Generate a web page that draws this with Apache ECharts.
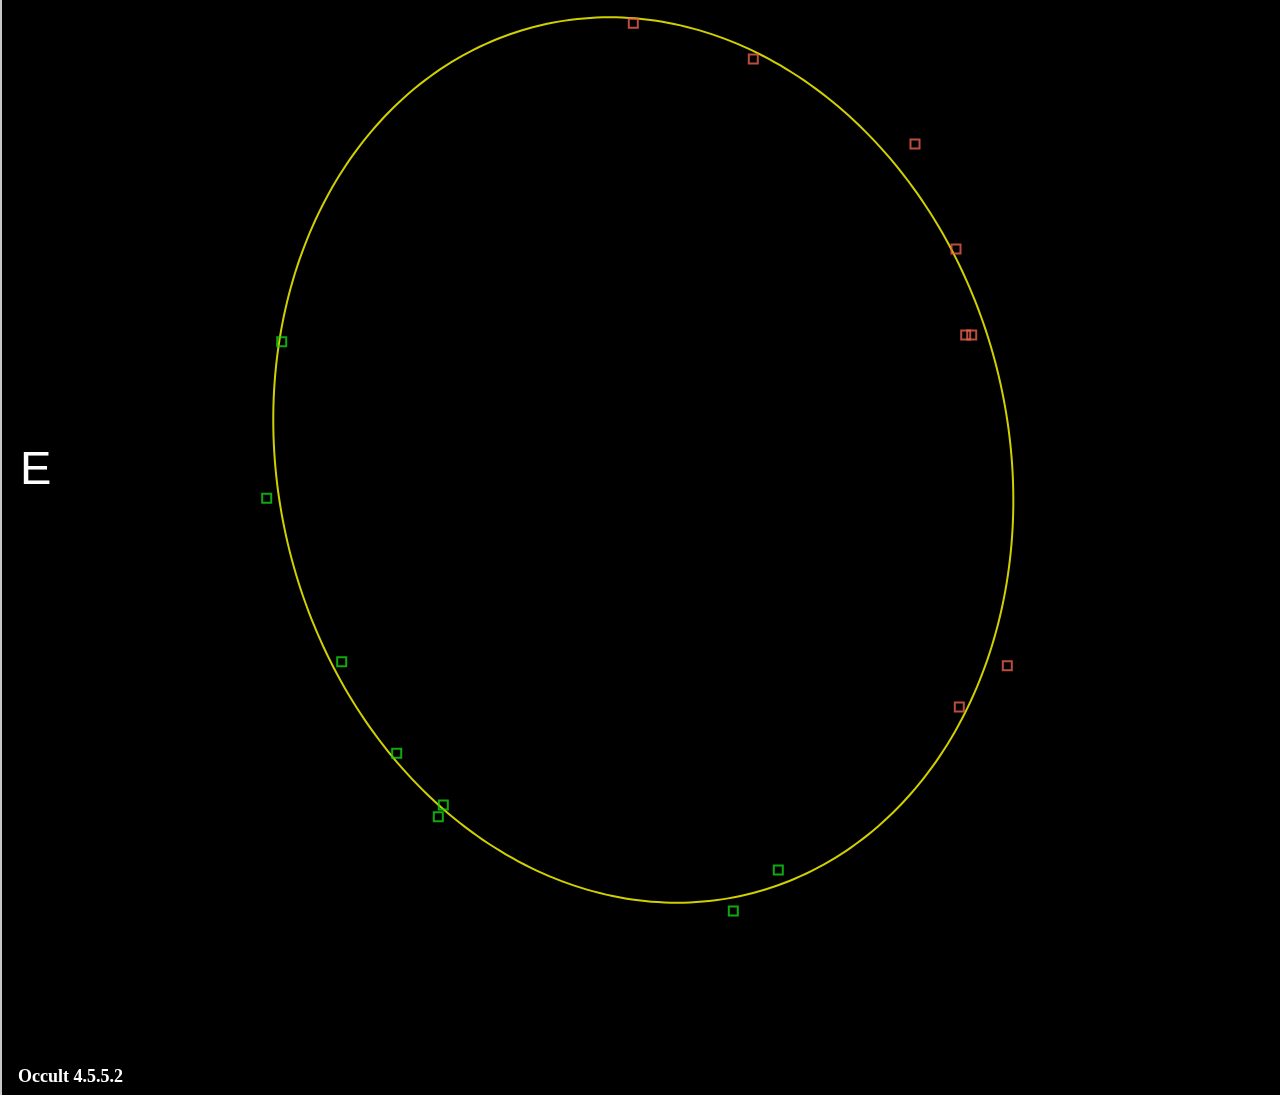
<!DOCTYPE html>
<html>
<head>
<meta charset="utf-8">
<script src="https://cdn.jsdelivr.net/npm/echarts@6/dist/echarts.min.js"></script>
<style>
html,body{margin:0;padding:0;background:#000;}
#chart{width:1280px;height:1095px;}
</style>
</head>
<body>
<div id="chart"></div>
<script>
// Fitted asteroid profile (km): center, semi-major, semi-minor, major-axis angle (deg from +x, counter-clockwise)
const ellipseCenter = [0, 0];
const ellipseAxes = [44.67, 36.52];
const ellipseAngle = 103.4;

// Disappearance points (km, x east-west, y north-south)
const disappearX = [-1.00, 11.00, 27.17, 31.27, 32.24, 32.84, 36.40, 31.60];
const disappearY = [43.67, 40.10, 31.60, 21.10, 12.50, 12.50, -20.57, -24.70];

// Reappearance points (km)
const reappearX = [-36.16, -37.66, -30.16, -24.66, -20.00, -20.50, 13.50, 9.00];
const reappearY = [11.83, -3.83, -20.17, -29.33, -34.50, -35.67, -41.00, -45.10];

const directionLabel = 'E';
const versionLabel = 'Occult 4.5.5.2';

const chart = echarts.init(document.getElementById('chart'));

const zip = (xs, ys) => xs.map((x, i) => [x, ys[i]]);

chart.setOption({
  backgroundColor: '#000',
  animation: false,
  grid: {left: 0, right: 0, top: 0, bottom: 0},
  xAxis: {type: 'value', min: -64.33, max: 63.67, show: false},
  yAxis: {type: 'value', min: -63.5, max: 46.0, show: false},
  graphic: [
    {type: 'rect', left: 0, top: 0, shape: {width: 2, height: 1095}, style: {fill: '#c8c8c8'}},
    {type: 'text', left: 20, top: 448, style: {text: directionLabel, fill: '#fff', font: '47px "Liberation Sans", Arial, sans-serif'}},
    {type: 'text', left: 18, top: 1068, style: {text: versionLabel, fill: '#fff', font: 'bold 18px "Liberation Serif", "Times New Roman", serif'}}
  ],
  series: [
    {
      type: 'custom',
      data: [[ellipseCenter[0], ellipseCenter[1]]],
      renderItem: function (params, api) {
        const cx = api.value(0), cy = api.value(1);
        const a = ellipseAxes[0], b = ellipseAxes[1];
        const phi = ellipseAngle * Math.PI / 180;
        const pts = [];
        for (let i = 0; i <= 360; i++) {
          const t = i * Math.PI / 180;
          const x = cx + a * Math.cos(t) * Math.cos(phi) - b * Math.sin(t) * Math.sin(phi);
          const y = cy + a * Math.cos(t) * Math.sin(phi) + b * Math.sin(t) * Math.cos(phi);
          pts.push(api.coord([x, y]));
        }
        return {
          type: 'polyline',
          shape: {points: pts},
          style: {stroke: '#d0d000', lineWidth: 2, fill: null}
        };
      },
      silent: true,
      z: 1
    },
    {
      type: 'scatter',
      data: zip(disappearX, disappearY),
      symbol: 'rect',
      symbolSize: 9,
      itemStyle: {color: 'rgba(0,0,0,0)', borderColor: '#e8604c', borderWidth: 2},
      z: 2
    },
    {
      type: 'scatter',
      data: zip(reappearX, reappearY),
      symbol: 'rect',
      symbolSize: 9,
      itemStyle: {color: 'rgba(0,0,0,0)', borderColor: '#14d214', borderWidth: 2},
      z: 2
    }
  ]
});
</script>
</body>
</html>
